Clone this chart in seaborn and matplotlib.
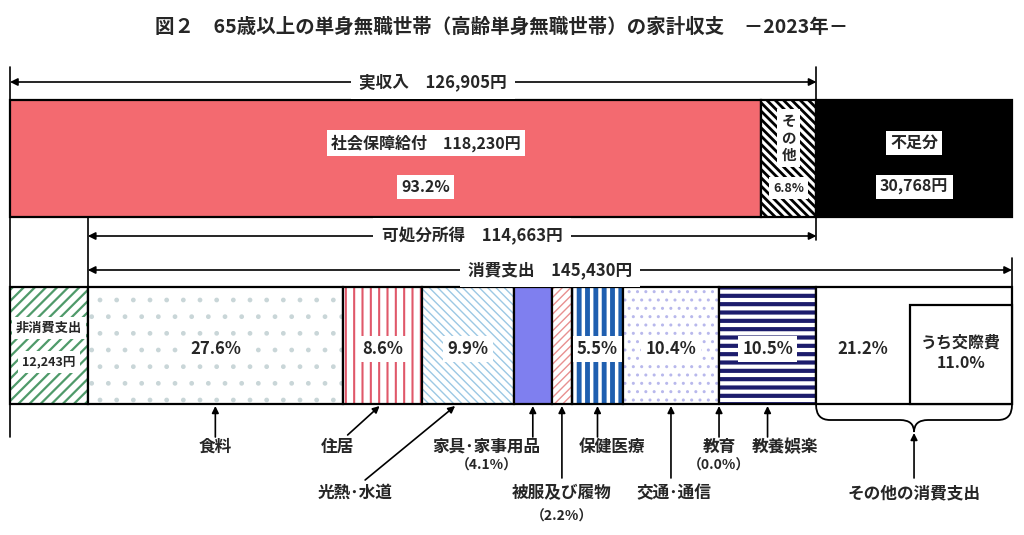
import numpy as np
import pandas as pd
import matplotlib.pyplot as plt
import seaborn as sns
from matplotlib.path import Path
from matplotlib.patches import PathPatch, Rectangle

# 家計収支データ（2023年, 高齢単身無職世帯）
income_labels = ['社会保障給付', 'その他']
income_values = [118230, 8675]
income_shares = [93.2, 6.8]
income_total = 126905
shortfall = 30768
disposable = 114663
consumption = 145430
non_consumption = 12243

cons_cats = ['食料', '住居', '光熱･水道', '家具･家事用品', '被服及び履物',
             '保健医療', '交通･通信', '教育', '教養娯楽', 'その他の消費支出']
cons_shares = [27.6, 8.6, 9.9, 4.1, 2.2, 5.5, 10.4, 0.0, 10.5, 21.2]
kosai_share = 11.0

sns.set_theme(style='white')
plt.rcParams['font.family'] = ['Noto Sans CJK JP', 'DejaVu Sans']
plt.rcParams['font.weight'] = 'bold'

fig = plt.figure(figsize=(10.24, 5.35), dpi=100)
ax = fig.add_axes([0, 0, 1, 1])

total = income_total + shortfall
ppy = 1002 / total                      # pixel per yen
def X(px):                               # pixel -> yen (x axis)
    return (px - 10) / ppy

def seg(x0, w, y0, h, face, hatch=None, hcolor=None, hlw=1.0):
    with plt.rc_context({'hatch.linewidth': hlw}):
        bars = ax.barh(y0 + h / 2, w, height=h, left=x0, color=face,
                       edgecolor=hcolor if hatch else face, linewidth=0, hatch=hatch)
    for b in bars:
        if hasattr(b, 'set_hatch_linewidth'):
            b.set_hatch_linewidth(hlw)
    ax.barh(y0 + h / 2, w, height=h, left=x0, fill=False, edgecolor='black', linewidth=1.6)

def label(x, y, s, size=11.5, box=True, **kw):
    bb = dict(facecolor='white', edgecolor='none', pad=3) if box else None
    ax.text(x, y, s, ha='center', va='center', fontsize=size, bbox=bb, **kw)

# ---- 上段: 実収入 + 不足分 ----
top_y, top_h = 100, 117
seg(0, income_values[0], top_y, top_h, '#f36a70')
seg(income_values[0], income_values[1], top_y, top_h, 'white', '\\\\\\\\', 'black', 2.0)
seg(income_total, shortfall, top_y, top_h, 'black')

c0 = income_values[0] / 2 + 40 / ppy
label(c0, 143, f'{income_labels[0]}　{income_values[0]:,}円')
label(c0, 187, f'{income_shares[0]}%')
c1 = income_values[0] + income_values[1] / 2
label(c1, 138, 'そ\nの\n他', size=10.5, linespacing=1.05)
label(c1, 188, f'{income_shares[1]}%', size=9)
c2 = income_total + shortfall / 2
label(c2, 143, '不足分')
label(c2, 187, f'{shortfall:,}円')

# ---- 下段: 非消費支出 + 消費支出 ----
bot_y, bot_h = 287, 117
seg(0, non_consumption, bot_y, bot_h, 'white', '///', '#4f9a6a', 1.6)
label(non_consumption / 2, 328, '非消費支出', size=9.5)
label(non_consumption / 2, 362, f'{non_consumption:,}円', size=9)

styles = [('white', '.', '#c9d6d8', 1.0),
          ('white', '||', '#e0586a', 1.5),
          ('white', '\\\\\\\\', '#9cc8e4', 1.0),
          ('#7f7fef', None, None, 1.0),
          ('white', '////', '#e89090', 1.0),
          ('white', '||', '#1f5fb0', 3.5),
          ('white', '..', '#b8b8ec', 1.0),
          ('white', None, None, 1.0),
          ('white', '--', '#1c1c6c', 3.0),
          ('white', None, None, 1.0)]
widths = np.array(cons_shares) / 100 * consumption
starts = non_consumption + np.concatenate([[0], np.cumsum(widths)[:-1]])
centers = starts + widths / 2
for s, w, st in zip(starts, widths, styles):
    if w <= 0:
        continue
    seg(s, w, bot_y, bot_h, st[0], st[1], st[2], st[3])

kx = total - kosai_share / 100 * consumption
for i in [0, 1, 2, 5, 6, 8, 9]:
    x = centers[i] if i != 9 else (starts[9] + kx) / 2
    label(x, 349, f'{cons_shares[i]}%', size=12)

# うち交際費
ax.add_patch(Rectangle((kx, 305), total - kx, bot_y + bot_h - 305, facecolor='white',
                       edgecolor='black', linewidth=1.6))
ax.text((kx + total) / 2, 353, f'うち交際費\n{kosai_share}%', ha='center', va='center',
        fontsize=11.5, linespacing=1.35)

# ---- 縦の区切り線 ----
for x, ya, yb in [(0, 67, 437), (non_consumption, 217, 287),
                  (income_total, 67, 240), (total, 258, 287)]:
    ax.plot([x, x], [ya, yb], color='black', lw=1.2)

# ---- 範囲の矢印 ----
def span(xa, xb, y, text, dx=0):
    ax.annotate('', xy=(xa, y), xytext=(xb, y),
                arrowprops=dict(arrowstyle='<|-|>', color='black', lw=1.2,
                                mutation_scale=11, shrinkA=0, shrinkB=0))
    ax.text((xa + xb) / 2 + dx / ppy, y, text, ha='center', va='center', fontsize=12,
            bbox=dict(facecolor='white', edgecolor='none', pad=6))

span(0, income_total, 82, f'実収入　{income_total:,}円', 20)
span(non_consumption, income_total, 236, f'可処分所得　{disposable:,}円', 20)
span(non_consumption, total, 270, f'消費支出　{consumption:,}円', 0)

# ---- 下部の項目ラベル ----
# (label dx px, label y, arrow tail dx px, tail y, head dx px)
layout = [(0, 447, 0, 437, 0),
          (-45, 447, -35, 435, -3),
          (-113, 493, -103, 480, -13),
          (-46, 447, 0, 437, 0),
          (0, 493, 0, 478, 0),
          (14, 447, 0, 437, 0),
          (3, 493, 0, 478, 0),
          (0, 447, 0, 437, 0),
          (17, 447, 0, 437, 0)]
sub_pct = {3: 466, 4: 517, 7: 466}
for i, (ldx, ly, tdx, ty, hdx) in enumerate(layout):
    c = centers[i]
    ax.annotate('', xy=(c + hdx / ppy, 406), xytext=(c + tdx / ppy, ty),
                arrowprops=dict(arrowstyle='-|>', color='black', lw=1.2,
                                mutation_scale=10, shrinkA=0, shrinkB=0))
    ax.text(c + ldx / ppy, ly, cons_cats[i], ha='center', va='center', fontsize=12)
    if i in sub_pct:
        ax.text(c + ldx / ppy, sub_pct[i], f'（{cons_shares[i]}%）', ha='center',
                va='center', fontsize=10)

# その他の消費支出: 中括弧
x0, x1 = starts[9], total
mid = (x0 + x1) / 2
r = 14 / ppy
verts = [(x0, 405), (x0, 420), (x0 + r, 420), (mid - r, 420), (mid, 420), (mid, 432),
         (mid, 420), (mid + r, 420), (x1 - r, 420), (x1, 420), (x1, 405)]
codes = [Path.MOVETO, Path.CURVE3, Path.CURVE3, Path.LINETO, Path.CURVE3, Path.CURVE3,
         Path.CURVE3, Path.CURVE3, Path.LINETO, Path.CURVE3, Path.CURVE3]
ax.add_patch(PathPatch(Path(verts, codes), fill=False, edgecolor='black', lw=1.3))
ax.annotate('', xy=(mid, 433), xytext=(mid, 478),
            arrowprops=dict(arrowstyle='-|>', color='black', lw=1.2,
                            mutation_scale=10, shrinkA=0, shrinkB=0))
ax.text(mid, 493, cons_cats[9], ha='center', va='center', fontsize=12)

# タイトル
ax.text(X(502), 27, '図２　65歳以上の単身無職世帯（高齢単身無職世帯）の家計収支　－2023年－',
        ha='center', va='center', fontsize=14, fontweight='bold')

ax.set_xlim(X(0), X(1024))
ax.set_ylim(535, 0)
ax.axis('off')
fig.savefig('out.png', dpi=100)
